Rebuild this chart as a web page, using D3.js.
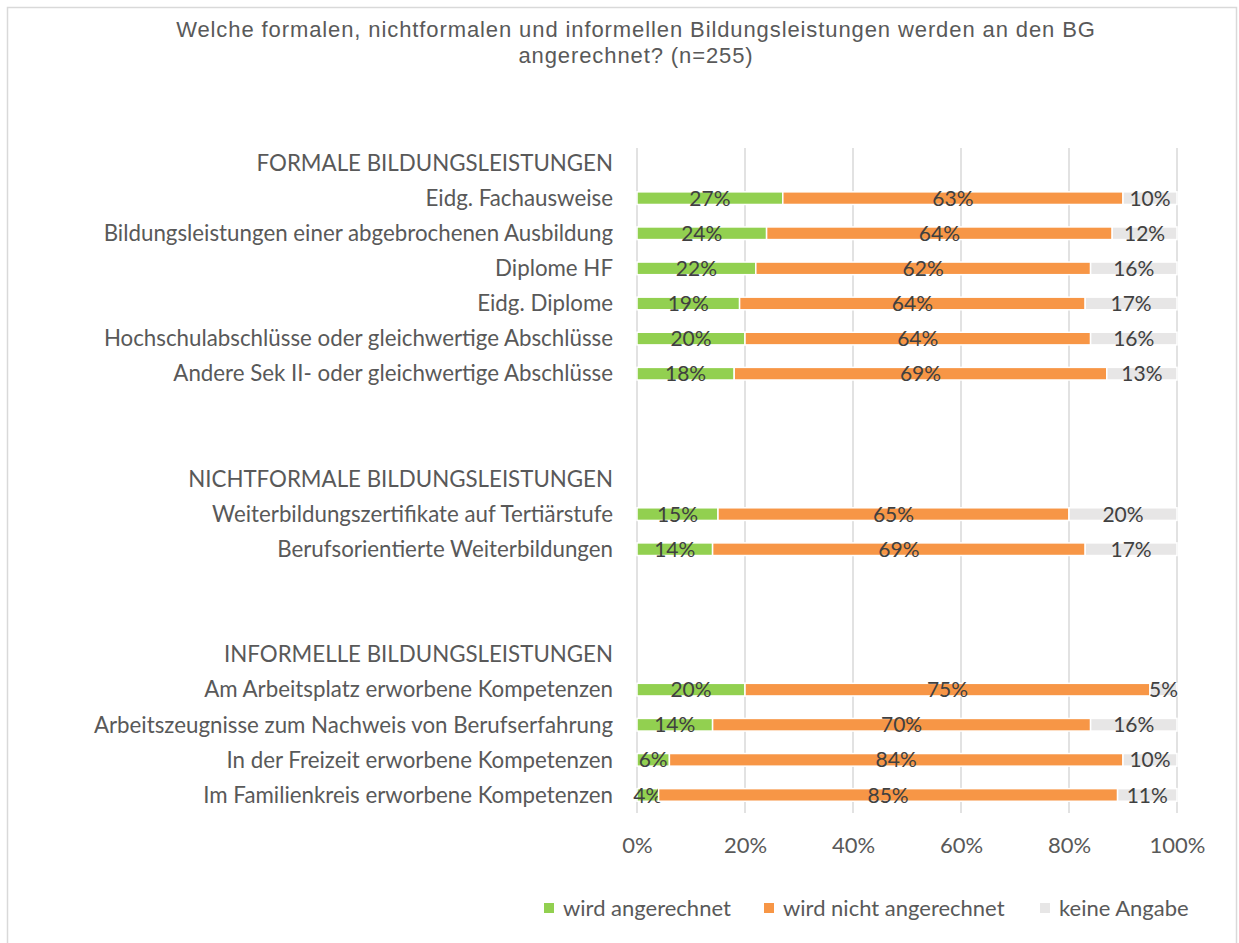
<!DOCTYPE html>
<html>
<head>
<meta charset="utf-8">
<script src="https://cdn.jsdelivr.net/npm/d3@7"></script>
<style>
  body { margin: 0; background: #fff; }
  text { fill: #595959; }
</style>
</head>
<body>
<script>
// rows of the chart, headers and blank spacer rows included
var categories = [
  "FORMALE BILDUNGSLEISTUNGEN",
  "Eidg. Fachausweise",
  "Bildungsleistungen einer abgebrochenen Ausbildung",
  "Diplome HF",
  "Eidg. Diplome",
  "Hochschulabschlüsse oder gleichwertige Abschlüsse",
  "Andere Sek II- oder gleichwertige Abschlüsse",
  "",
  "",
  "NICHTFORMALE BILDUNGSLEISTUNGEN",
  "Weiterbildungszertifikate auf Tertiärstufe",
  "Berufsorientierte Weiterbildungen",
  "",
  "",
  "INFORMELLE BILDUNGSLEISTUNGEN",
  "Am Arbeitsplatz erworbene Kompetenzen",
  "Arbeitszeugnisse zum Nachweis von Berufserfahrung",
  "In der Freizeit erworbene Kompetenzen",
  "Im Familienkreis erworbene Kompetenzen"
];

// percentages, null = no bar (header / spacer)
var angerechnet      = [null, 27, 24, 22, 19, 20, 18, null, null, null, 15, 14, null, null, null, 20, 14, 6, 4];
var nichtAngerechnet = [null, 63, 64, 62, 64, 64, 69, null, null, null, 65, 69, null, null, null, 75, 70, 84, 85];
var keineAngabe      = [null, 10, 12, 16, 17, 16, 13, null, null, null, 20, 17, null, null, null, 5, 16, 10, 11];

var seriesNames = ["wird angerechnet", "wird nicht angerechnet", "keine Angabe"];
var tickValues = [0, 0.2, 0.4, 0.6, 0.8, 1];

var width = 1239,
    height = 943;

var colors = ["#92d050", "#f79646", "#e7e6e6"];

var rows = categories.map(function(c, i) {
  return { key: "r" + i, name: c, a: angerechnet[i], n: nichtAngerechnet[i], k: keineAngabe[i] };
});

var svg = d3.select("body").append("svg")
  .attr("width", width)
  .attr("height", height);

// chart border
svg.append("rect")
  .attr("x", 7.5).attr("y", 7.5)
  .attr("width", 1229).attr("height", 950)
  .attr("fill", "none")
  .attr("stroke", "#d9d9d9")
  .attr("stroke-width", 1.5);

// title
var titleLines = ["Welche formalen, nichtformalen und informellen Bildungsleistungen werden an den BG",
                  "angerechnet? (n=255)"];
svg.append("g")
  .selectAll("text")
  .data(titleLines)
  .enter().append("text")
  .attr("x", 636)
  .attr("y", function(d, i) { return 37 + i * 26; })
  .attr("text-anchor", "middle")
  .style("font-family", "'Liberation Sans', Arial, sans-serif")
  .style("font-size", "22px")
  .style("letter-spacing", "0.9px")
  .text(function(d) { return d; });

var x = d3.scaleLinear().domain([0, 1]).range([637, 1177]);

var y = d3.scaleBand()
  .domain(rows.map(function(d) { return d.key; }))
  .range([145.5, 812.5])
  .paddingInner(0.64)
  .paddingOuter(0.32);

var labelFont = "Lato, 'Open Sans', sans-serif";

// gridlines
svg.append("g")
  .selectAll("line")
  .data(tickValues)
  .enter().append("line")
  .attr("x1", function(d) { return x(d); })
  .attr("x2", function(d) { return x(d); })
  .attr("y1", 148)
  .attr("y2", 813)
  .attr("stroke", "#d9d9d9")
  .attr("stroke-width", 1.5);

// x axis labels
var xAxis = d3.axisBottom(x)
  .tickValues(tickValues)
  .tickSize(0)
  .tickPadding(0)
  .tickFormat(d3.format(".0%"));

var gx = svg.append("g")
  .attr("transform", "translate(0,853)")
  .call(xAxis);
gx.select(".domain").remove();
gx.selectAll("text")
  .attr("dy", 0)
  .style("font-family", labelFont)
  .style("font-size", "22px")
  .style("fill", "#595959");

// category labels
var yAxis = d3.axisLeft(y)
  .tickSize(0)
  .tickPadding(0)
  .tickFormat(function(k, i) { return categories[i]; });

var gy = svg.append("g")
  .attr("transform", "translate(613,0)")
  .call(yAxis);
gy.select(".domain").remove();
gy.selectAll("text")
  .attr("dy", "0.35em")
  .style("font-family", labelFont)
  .style("font-size", "22.3px")
  .style("fill", "#595959");

// stacked bars
var stack = d3.stack()
  .keys(["a", "n", "k"])
  .value(function(d, key) { return d[key] == null ? 0 : d[key] / 100; });

var stacked = stack(rows.filter(function(d) { return d.a != null; }));

var layer = svg.append("g")
  .selectAll("g")
  .data(stacked)
  .enter().append("g")
  .attr("fill", function(d, i) { return colors[i]; });

layer.selectAll("rect")
  .data(function(d) { return d; })
  .enter().append("rect")
  .attr("x", function(d) { return x(d[0]); })
  .attr("y", function(d) { return y(d.data.key); })
  .attr("width", function(d) { return x(d[1]) - x(d[0]); })
  .attr("height", y.bandwidth())
  .attr("stroke", "#fff")
  .attr("stroke-width", 1.5);

layer.selectAll("text")
  .data(function(d) { return d; })
  .enter().append("text")
  .attr("x", function(d) { return (x(d[0]) + x(d[1])) / 2; })
  .attr("y", function(d) { return y(d.data.key) + y.bandwidth() / 2; })
  .attr("dy", "0.36em")
  .attr("text-anchor", "middle")
  .style("font-family", labelFont)
  .style("font-size", "21px")
  .style("fill", "#404040")
  .text(function(d) { return Math.round((d[1] - d[0]) * 100) + "%"; });

// legend
var legendX = [544, 764, 1040];
var legend = svg.append("g")
  .selectAll("g")
  .data(seriesNames)
  .enter().append("g")
  .attr("transform", function(d, i) { return "translate(" + legendX[i] + ",908)"; });

legend.append("rect")
  .attr("x", 0).attr("y", -5)
  .attr("width", 10).attr("height", 10)
  .attr("fill", function(d, i) { return colors[i]; });

legend.append("text")
  .attr("x", 19)
  .attr("dy", "0.35em")
  .style("font-family", labelFont)
  .style("font-size", "22px")
  .text(function(d) { return d; });
</script>
</body>
</html>
